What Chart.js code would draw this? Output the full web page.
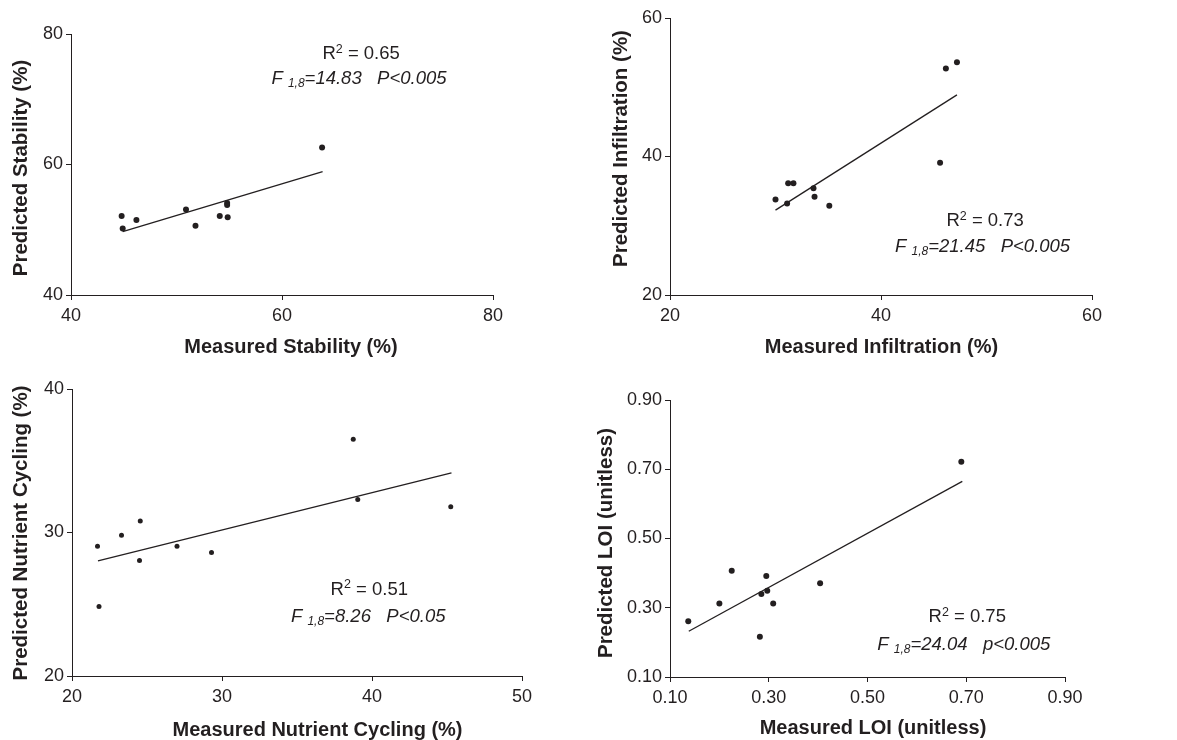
<!DOCTYPE html>
<html>
<head>
<meta charset="utf-8">
<script src="https://cdn.jsdelivr.net/npm/chart.js@4.4.1/dist/chart.umd.min.js"></script>
<style>
  body { margin: 0; background: #fff; width: 1177px; height: 740px; position: relative; overflow: hidden; }
  .panel { position: absolute; }
</style>
</head>
<body>
<div class="panel" style="left:0;top:0;width:580px;height:370px"><canvas id="stability"></canvas></div>
<div class="panel" style="left:580px;top:0;width:597px;height:370px"><canvas id="infiltration"></canvas></div>
<div class="panel" style="left:0;top:370px;width:580px;height:370px"><canvas id="nutrient"></canvas></div>
<div class="panel" style="left:580px;top:370px;width:597px;height:370px"><canvas id="loi"></canvas></div>
<script>
// values (measured vs predicted, n = 10 per panel)
const stabilityMeasured = [44.8, 44.9, 46.2, 50.9, 51.8, 54.1, 54.8, 54.8, 54.85, 63.8];
const stabilityPredicted = [52.1, 50.2, 51.5, 53.1, 50.6, 52.1, 53.8, 54.1, 51.9, 62.6];
const stabilityFitX = [44.9, 63.85];
const stabilityFitY = [49.7, 58.9];
const stabilityTicks = [40, 60, 80];

const infiltrationMeasured = [30.0, 31.2, 31.7, 31.1, 33.6, 33.7, 35.1, 45.6, 46.15, 47.2];
const infiltrationPredicted = [33.8, 36.15, 36.15, 33.2, 35.4, 34.2, 32.9, 39.1, 52.7, 53.6];
const infiltrationFitX = [30.0, 47.2];
const infiltrationFitY = [32.25, 48.9];
const infiltrationTicks = [20, 40, 60];

const nutrientMeasured = [21.7, 21.8, 23.3, 24.55, 24.5, 27.0, 29.3, 38.75, 39.05, 45.25];
const nutrientPredicted = [29.05, 24.85, 29.8, 30.8, 28.05, 29.05, 28.6, 36.5, 32.3, 31.8];
const nutrientFitX = [21.73, 45.3];
const nutrientFitY = [28.02, 34.15];
const nutrientXTicks = [20, 30, 40, 50];
const nutrientYTicks = [20, 30, 40];

const loiMeasured = [0.137, 0.200, 0.225, 0.282, 0.285, 0.295, 0.297, 0.309, 0.404, 0.690];
const loiPredicted = [0.261, 0.312, 0.407, 0.216, 0.340, 0.392, 0.349, 0.312, 0.371, 0.722];
const loiFitX = [0.138, 0.692];
const loiFitY = [0.232, 0.665];
const loiTicks = [0.10, 0.30, 0.50, 0.70, 0.90];

const INK = '#231f20';
const FAMILY = "'Liberation Sans', Arial, Helvetica, sans-serif";

// stats text (R^2, F-test) centred on a point in data units, plus the axis titles
const statsPlugin = {
  id: 'stats',
  afterDatasetsDraw(chart, args, opts) {
    const ctx = chart.ctx;
    const xs = chart.scales.x, ys = chart.scales.y;
    const area = chart.chartArea;
    ctx.save();
    ctx.fillStyle = INK;
    ctx.textBaseline = 'alphabetic';
    ctx.textAlign = 'left';
    (opts.lines || []).forEach(line => {
      const cx = xs.getPixelForValue(line.x);
      const cy = ys.getPixelForValue(line.y) + 6.5;
      let total = 0;
      line.parts.forEach(p => {
        ctx.font = (p.italic ? 'italic ' : '') + (p.size || 18.5) + 'px ' + FAMILY;
        p.w = ctx.measureText(p.t).width;
        total += p.w;
      });
      let px = cx - total / 2;
      line.parts.forEach(p => {
        ctx.font = (p.italic ? 'italic ' : '') + (p.size || 18.5) + 'px ' + FAMILY;
        ctx.fillText(p.t, px, cy + (p.dy || 0));
        px += p.w;
      });
    });

    // axis titles, offset from the plot centre as in the figure
    const t = opts.titles;
    if (t) {
      ctx.font = 'bold 20px ' + FAMILY;
      ctx.textAlign = 'center';
      ctx.textBaseline = 'middle';
      ctx.fillText(t.x, (area.left + area.right) / 2 + t.xdx, t.xy);
      ctx.save();
      ctx.font = 'bold 20.5px ' + FAMILY;
      ctx.translate(t.yx, (area.top + area.bottom) / 2 + t.ydy);
      ctx.rotate(-Math.PI / 2);
      ctx.fillText(t.y, 0, 0);
      ctx.restore();
    }
    ctx.restore();
  }
};

function statLines(r2, f, p, pos) {
  return [
    { x: pos.rx, y: pos.ry, parts: [
      { t: 'R' }, { t: '2', size: 12.5, dy: -6.5 }, { t: ' = ' + r2 }
    ] },
    { x: pos.fx, y: pos.fy, parts: [
      { t: 'F ', italic: true }, { t: '1,8', italic: true, size: 12, dy: 3 },
      { t: '=' + f + '   ' + p, italic: true }
    ] }
  ];
}

function axis(ticks, fit, fmt, horizontal) {
  return {
    type: 'linear',
    min: ticks[0],
    max: ticks[ticks.length - 1],
    afterBuildTicks: s => { s.ticks = ticks.map(v => ({ value: v })); },
    afterFit: s => { if (horizontal) s.height = fit; else s.width = fit; },
    grid: { drawOnChartArea: false, drawTicks: true, tickLength: 5, color: INK, lineWidth: 1 },
    border: { display: true, color: INK, width: 1 },
    ticks: {
      padding: horizontal ? 5 : 3,
      color: INK,
      autoSkip: false,
      maxRotation: 0,
      font: { size: 18, family: FAMILY },
      callback: v => fmt(v)
    },
    title: { display: false }
  };
}

function makePanel(id, c) {
  const points = c.xs.map((v, i) => ({ x: v, y: c.ys[i] }));
  const fit = c.fitX.map((v, i) => ({ x: v, y: c.fitY[i] }));
  new Chart(document.getElementById(id), {
    type: 'scatter',
    data: {
      datasets: [
        {
          data: points,
          pointRadius: c.radius,
          pointBackgroundColor: INK,
          pointBorderColor: INK,
          pointBorderWidth: 0
        },
        {
          data: fit,
          showLine: true,
          borderColor: INK,
          borderWidth: 1.3,
          pointRadius: 0
        }
      ]
    },
    options: {
      responsive: true,
      maintainAspectRatio: false,
      animation: false,
      layout: { padding: c.pad },
      plugins: {
        legend: { display: false },
        tooltip: { enabled: false },
        stats: { lines: c.stats, titles: c.titles }
      },
      scales: {
        x: axis(c.xTicks, c.xh, c.fmt, true),
        y: axis(c.yTicks, c.yw, c.fmt, false)
      }
    },
    plugins: [statsPlugin]
  });
}

const whole = v => String(v);
const twoDp = v => Number(v).toFixed(2);

makePanel('stability', {
  xs: stabilityMeasured, ys: stabilityPredicted, fitX: stabilityFitX, fitY: stabilityFitY,
  xTicks: stabilityTicks, yTicks: stabilityTicks, fmt: whole, radius: 3,
  pad: { left: 0, top: 34, right: 87, bottom: 5 }, yw: 71, xh: 70,
  titles: { x: 'Measured Stability (%)', xdx: 9, xy: 347, y: 'Predicted Stability (%)', yx: 21, ydy: 3.5 },
  stats: statLines('0.65', '14.83', 'P<0.005', { rx: 67.5, ry: 77.1, fx: 67.3, fy: 73.3 })
});

makePanel('infiltration', {
  xs: infiltrationMeasured, ys: infiltrationPredicted, fitX: infiltrationFitX, fitY: infiltrationFitY,
  xTicks: infiltrationTicks, yTicks: infiltrationTicks, fmt: whole, radius: 3,
  pad: { left: 0, top: 18, right: 85, bottom: 5 }, yw: 90, xh: 70,
  titles: { x: 'Measured Infiltration (%)', xdx: 0.5, xy: 347, y: 'Predicted Infiltration (%)', yx: 41.7, ydy: -8 },
  stats: statLines('0.73', '21.45', 'P<0.005', { rx: 49.87, ry: 30.9, fx: 49.63, fy: 27.2 })
});

makePanel('nutrient', {
  xs: nutrientMeasured, ys: nutrientPredicted, fitX: nutrientFitX, fitY: nutrientFitY,
  xTicks: nutrientXTicks, yTicks: nutrientYTicks, fmt: whole, radius: 2.5,
  pad: { left: 0, top: 19, right: 58, bottom: 0 }, yw: 72, xh: 64,
  titles: { x: 'Measured Nutrient Cycling (%)', xdx: 20.5, xy: 360, y: 'Predicted Nutrient Cycling (%)', yx: 21, ydy: 0.5 },
  stats: statLines('0.51', '8.26', 'P<0.05', { rx: 39.82, ry: 26.12, fx: 39.75, fy: 24.19 })
});

makePanel('loi', {
  xs: loiMeasured, ys: loiPredicted, fitX: loiFitX, fitY: loiFitY,
  xTicks: loiTicks, yTicks: loiTicks, fmt: twoDp, radius: 3,
  pad: { left: 0, top: 30, right: 112, bottom: 0 }, yw: 90, xh: 63,
  titles: { x: 'Measured LOI (unitless)', xdx: 5.5, xy: 358, y: 'Predicted LOI (unitless)', yx: 26.7, ydy: 4.5 },
  stats: statLines('0.75', '24.04', 'p<0.005', { rx: 0.702, ry: 0.2767, fx: 0.695, fy: 0.198 })
});
</script>
</body>
</html>
